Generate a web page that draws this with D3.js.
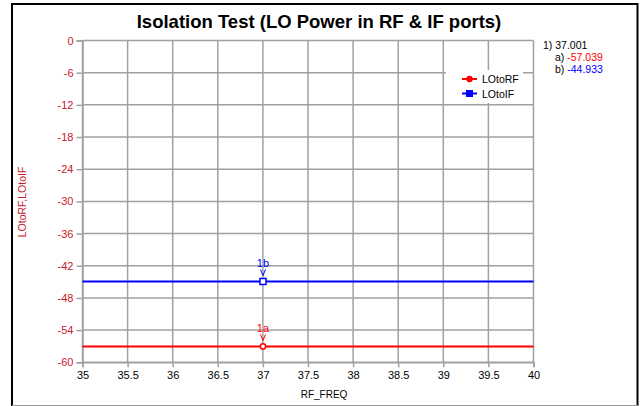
<!DOCTYPE html>
<html>
<head>
<meta charset="utf-8">
<script src="https://cdn.jsdelivr.net/npm/d3@7"></script>
<style>
  html, body { margin: 0; padding: 0; background: #fff; }
  svg { display: block; font-family: "Liberation Sans", Arial, sans-serif; }
</style>
</head>
<body>
<svg id="chart" width="641" height="406"></svg>
<script>
// Swept isolation measurement: LO leakage into the RF and IF ports
const freqRange = [35, 40];
const xTicks = [35, 35.5, 36, 36.5, 37, 37.5, 38, 38.5, 39, 39.5, 40];
const yTicks = [0, -6, -12, -18, -24, -30, -36, -42, -48, -54, -60];
const seriesNames = ["LOtoRF", "LOtoIF"];
const seriesColors = ["#ff0000", "#0000ff"];
const freqs = [35, 40];
const loToRF = [-57.039, -57.039];
const loToIF = [-44.933, -44.933];
const markerFreq = 37.001;
const markerValues = [-57.039, -44.933];
const markerLabels = ["1a", "1b"];

const svg = d3.select("#chart");
const W = 641, H = 406;
const plot = { left: 82.5, right: 533.5, top: 40.5, bottom: 362.3 };

const x = d3.scaleLinear().domain(freqRange).range([plot.left, plot.right]);
const y = d3.scaleLinear().domain([-60, 0]).range([plot.bottom, plot.top]);

// frame
svg.append("rect").attr("x", 0).attr("y", 0).attr("width", W).attr("height", H).attr("fill", "#fff");
svg.append("path")
  .attr("d", `M12,408 L12,4 L637.5,4 L637.5,408`)
  .attr("fill", "none").attr("stroke", "#000").attr("stroke-width", 2);
svg.append("line").attr("x1", 12).attr("x2", 638).attr("y1", 405.5).attr("y2", 405.5)
  .attr("stroke", "#999").attr("stroke-width", 1);

// title
svg.append("text").attr("x", 319).attr("y", 28).attr("text-anchor", "middle")
  .attr("font-size", 18.5).attr("font-weight", "bold").attr("fill", "#000")
  .text("Isolation Test (LO Power in RF & IF ports)");

const gridColor = "#a0a0a0";
// grid
const grid = svg.append("g");
grid.selectAll(".gx").data(xTicks).join("line")
  .attr("x1", d => x(d)).attr("x2", d => x(d))
  .attr("y1", plot.top).attr("y2", plot.bottom)
  .attr("stroke", gridColor).attr("stroke-width", 1.5);
grid.selectAll(".gy").data(yTicks).join("line")
  .attr("x1", plot.left).attr("x2", plot.right)
  .attr("y1", d => y(d)).attr("y2", d => y(d))
  .attr("stroke", gridColor).attr("stroke-width", 1.5);

// axes
const yAxis = svg.append("g").attr("transform", `translate(${plot.left},0)`)
  .call(d3.axisLeft(y).tickValues(yTicks).tickSize(6).tickPadding(3).tickFormat(d3.format("d")));
yAxis.select(".domain").attr("stroke", gridColor).attr("stroke-width", 1.5);
yAxis.selectAll(".tick line").attr("stroke", gridColor).attr("stroke-width", 1.5);
yAxis.selectAll(".tick text").attr("fill", "#c8202a").attr("font-size", 11)
  .attr("font-family", "Liberation Sans, Arial, sans-serif").text(d => d === 0 ? "0" : String(d));

const xAxis = svg.append("g").attr("transform", `translate(0,${plot.bottom})`)
  .call(d3.axisBottom(x).tickValues(xTicks).tickSize(5).tickPadding(4).tickFormat(d => String(d)));
xAxis.select(".domain").attr("stroke", gridColor).attr("stroke-width", 1.5);
xAxis.selectAll(".tick line").attr("stroke", gridColor).attr("stroke-width", 1.5);
xAxis.selectAll(".tick text").attr("fill", "#000").attr("font-size", 11)
  .attr("font-family", "Liberation Sans, Arial, sans-serif");

// axis titles
svg.append("text").attr("x", 324).attr("y", 398).attr("text-anchor", "middle")
  .attr("font-size", 10).attr("fill", "#000").text("RF_FREQ");
svg.append("text").attr("transform", `translate(26,202) rotate(-90)`).attr("text-anchor", "middle")
  .attr("font-size", 10.5).attr("fill", "#c8202a").text(seriesNames.join(","));

// traces
const seriesData = [loToRF, loToIF];
const line = d3.line().x((d, i) => x(freqs[i])).y(d => y(d));
seriesData.forEach((vals, k) => {
  svg.append("path").datum(vals).attr("d", line)
    .attr("fill", "none").attr("stroke", seriesColors[k]).attr("stroke-width", 2);
});

// markers
markerValues.forEach((v, k) => {
  const mx = x(markerFreq), my = y(v);
  if (k === 0) {
    svg.append("circle").attr("cx", mx).attr("cy", my).attr("r", 2.6)
      .attr("fill", "#fff").attr("stroke", seriesColors[k]).attr("stroke-width", 1.5);
  } else {
    svg.append("rect").attr("x", mx - 3).attr("y", my - 3).attr("width", 6).attr("height", 6)
      .attr("fill", "#fff").attr("stroke", seriesColors[k]).attr("stroke-width", 1.5);
  }
  svg.append("path")
    .attr("d", `M${mx - 2.5},${my - 12} L${mx},${my - 6} L${mx + 2.5},${my - 12}`)
    .attr("fill", "none").attr("stroke", seriesColors[k]).attr("stroke-width", 1);
  svg.append("text").attr("x", mx).attr("y", my - 14).attr("text-anchor", "middle")
    .attr("font-size", 11).attr("fill", seriesColors[k]).text(markerLabels[k]);
});

// legend
const leg = svg.append("g");
leg.append("rect").attr("x", 446).attr("y", 70).attr("width", 77).attr("height", 33).attr("fill", "#fff");
seriesNames.forEach((name, k) => {
  const ly = 79 + k * 14.5;
  leg.append("line").attr("x1", 462).attr("x2", 477).attr("y1", ly).attr("y2", ly)
    .attr("stroke", seriesColors[k]).attr("stroke-width", 2);
  if (k === 0) {
    leg.append("circle").attr("cx", 469.5).attr("cy", ly).attr("r", 3.2).attr("fill", seriesColors[k]);
  } else {
    leg.append("rect").attr("x", 466).attr("y", ly - 3.5).attr("width", 7).attr("height", 7).attr("fill", seriesColors[k]);
  }
  leg.append("text").attr("x", 482).attr("y", ly + 4).attr("font-size", 10.5).attr("fill", "#000").text(name);
});

// marker readout
const ro = svg.append("g").attr("font-size", 10.5);
ro.append("text").attr("x", 543).attr("y", 49).attr("fill", "#000").text(`1) ${markerFreq.toFixed(3)}`);
["a", "b"].forEach((tag, k) => {
  const t = ro.append("text").attr("x", 555).attr("y", 61 + k * 11.5).attr("fill", "#000");
  t.append("tspan").text(`${tag}) `);
  t.append("tspan").attr("fill", seriesColors[k]).text(markerValues[k].toFixed(3));
});
</script>
</body>
</html>
